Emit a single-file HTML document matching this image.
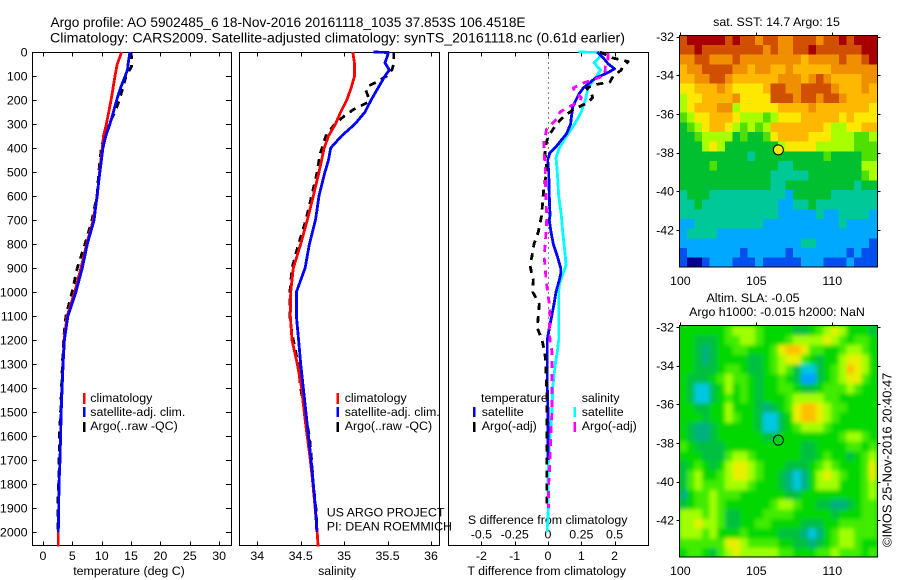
<!DOCTYPE html>
<html lang="en">
<head>
<meta charset="utf-8">
<title>Argo profile</title>
<style>
html,body{margin:0;padding:0;background:#fff;}
svg{display:block;}
text{font-family:"Liberation Sans",Arial,sans-serif;fill:#000;font-size:12.4px;}
.t14{font-size:14.2px;}
</style>
</head>
<body>
<svg id="chart" xmlns="http://www.w3.org/2000/svg" width="900" height="580" viewBox="0 0 900 580">
<defs>
<clipPath id="clip-sst"><rect x="679.5" y="35.5" width="198" height="231.5"/></clipPath>
<clipPath id="clip-sla"><rect x="679.5" y="325.5" width="198" height="231.5"/></clipPath>
<filter id="smooth" filterUnits="userSpaceOnUse" x="660" y="310" width="240" height="265"><feGaussianBlur stdDeviation="2"/></filter>
</defs>
<text class="t14" x="50.5" y="27" textLength="475" lengthAdjust="spacingAndGlyphs">Argo profile: AO 5902485_6 18-Nov-2016 20161118_1035 37.853S 106.4518E</text>
<text class="t14" x="50" y="42.5" textLength="575" lengthAdjust="spacingAndGlyphs">Climatology: CARS2009. Satellite-adjusted climatology: synTS_20161118.nc (0.61d earlier)</text>

<text x="129" y="575" text-anchor="middle">temperature (deg C)</text>
<text x="337" y="575" text-anchor="middle">salinity</text>
<text x="546.7" y="575" text-anchor="middle">T difference from climatology</text>
<text x="547.7" y="524" text-anchor="middle">S difference from climatology</text>

<text x="326.7" y="516.5">US ARGO PROJECT</text>
<text x="326.7" y="530.5">PI: DEAN ROEMMICH</text>

<text x="776.5" y="26" text-anchor="middle">sat. SST: 14.7 Argo: 15</text>
<text x="753" y="302" text-anchor="middle">Altim. SLA: -0.05</text>
<text x="777" y="316" text-anchor="middle">Argo h1000: -0.015 h2000: NaN</text>
<text transform="translate(891.5,547) rotate(-90)" style="font-size:12.9px">©IMOS 25-Nov-2016 20:40:47</text>
</svg>
<script>
// ---------- axis tick values ----------
var depthTicks = [0,100,200,300,400,500,600,700,800,900,1000,1100,1200,1300,1400,1500,1600,1700,1800,1900,2000];
var tempTicks = [0,5,10,15,20,25,30];
var salTicks = [34,34.5,35,35.5,36];
var salTickLabels = ['34','34.5','35','35.5','36'];
var tDiffTicks = [-2,-1,0,1,2];
var sDiffTicks = [-0.5,-0.25,0,0.25,0.5];
var sDiffTickLabels = ['-0.5','-0.25','0','0.25','0.5'];
var lonTicks = [100,105,110];
var latTicks = [-32,-34,-36,-38,-40,-42];

// ---------- temperature panel ----------
var tempClimDepth = [0,50,100,200,300,350,400,500,600,700,800,900,1000,1100,1200,1300,1400,1500,1600,1700,1800,1900,2000,2060];
var tempClim = [13.4,12.65,12.26,11.6,10.8,10.3,10.1,9.65,9.25,8.57,7.44,6.47,5.4,4.1,3.6,3.4,3.25,3.1,3.0,2.9,2.72,2.67,2.6,2.6];
var tempSatDepth = [0,50,75,100,150,200,250,300,350,400,500,600,700,800,900,1000,1100,1200,1300,1400,1500,1600,1700,1800,1900,2000];
var tempSat = [14.8,14.5,14.4,14,13.2,12.55,12,11.4,10.7,10.2,9.7,9.2,8.7,7.55,6.7,5.6,4.25,3.65,3.42,3.25,3.1,3.0,2.9,2.72,2.67,2.6];
var tempArgoDepth = [0,30,60,100,150,200,250,300,350,400,500,600,700,800,900,1000,1100,1200,1300,1400,1500,1600,1700,1800,1900,2000];
var tempArgo = [14.95,15.15,15.1,14.15,13.6,13,12.27,11.2,10.45,9.93,9.5,9.2,8.35,7.15,5.85,4.95,3.9,3.5,3.3,3.15,3.0,2.8,2.75,2.65,2.5,2.5];

// ---------- salinity panel ----------
var salClimDepth = [0,50,100,150,200,250,300,350,400,500,600,700,800,900,1000,1100,1200,1300,1400,1500,1600,1700,1800,1900,2000,2060];
var salClim = [35.1,35.12,35.12,35.08,35.03,34.96,34.9,34.82,34.77,34.71,34.645,34.576,34.5,34.415,34.385,34.38,34.4,34.46,34.51,34.54,34.575,34.61,34.64,34.665,34.69,34.7];
var salSatDepth = [0,2,25,45,75,100,150,200,250,300,350,400,450,500,600,700,800,900,1000,1100,1200,1300,1400,1500,1600,1700,1800,1900,2000];
var salSat = [35.34,35.51,35.49,35.47,35.52,35.47,35.39,35.31,35.24,35.125,34.97,34.845,34.82,34.78,34.71,34.67,34.6,34.55,34.45,34.45,34.475,34.5,34.53,34.56,34.59,34.62,34.645,34.67,34.685];
var salArgoDepth = [0,20,50,75,100,125,140,160,190,210,240,270,310,350,400,430,500,600,700,800,900,1000,1100,1150,1200,1300,1400,1500,1600,1700,1800,1900,2000];
var salArgo = [35.57,35.57,35.57,35.55,35.49,35.375,35.29,35.25,35.28,35.27,35.105,34.99,34.87,34.79,34.745,34.72,34.69,34.625,34.56,34.475,34.4,34.375,34.375,34.39,34.415,34.47,34.5,34.545,34.6,34.625,34.645,34.675,34.69];

// ---------- difference panel ----------
var dTSatDepth = [0,25,50,70,85,110,150,175,200,230,300,340,400,420,450,500,600,680,700,750,800,850,900,925,950,1000,1050,1100,1150,1200,1300,1400,1500,1600,1700];
var dTSat = [1.48,1.66,1.81,2.0,1.81,1.41,1.06,0.93,0.84,0.74,0.68,0.56,0.21,0.06,-0.01,0.02,0.04,0.06,0.04,0.09,0.16,0.28,0.38,0.38,0.34,0.24,0.18,0.11,0.04,-0.02,-0.02,-0.02,0,0,0];
var dTArgoDepth = [0,25,40,60,75,100,125,135,150,175,190,210,240,270,300,340,370,420,450,500,560,620,680,700,750,800,850,890,950,1000,1050,1100,1150,1200,1250,1300,1350,1400,1500,1550,1800,1900];
var dTArgo = [1.56,1.95,2.41,2.24,2.2,1.96,1.86,1.46,1.16,1.31,1.34,1.21,0.76,0.46,0.26,0.06,-0.04,-0.09,-0.06,-0.04,-0.12,-0.16,-0.19,-0.22,-0.29,-0.42,-0.48,-0.54,-0.44,-0.46,-0.26,-0.29,-0.32,-0.18,-0.1,-0.06,-0.06,-0.04,-0.04,-0.04,-0.04,-0.04];
var dSSatDepth = [0,2,25,45,75,100,150,200,250,300,350,400,440,500,600,680,750,800,850,890,925,970,1000,1100,1200,1250,1300,1400,1500,1600,1700,1800,1900,1980,2000];
var dSSat = [0.23,0.41,0.38,0.345,0.395,0.365,0.30,0.28,0.25,0.20,0.14,0.085,0.06,0.07,0.08,0.10,0.11,0.12,0.13,0.135,0.11,0.085,0.08,0.08,0.08,0.07,0.055,0.035,0.03,0.015,0.003,0,0.003,-0.005,-0.005];
var dSArgoDepth = [5,30,60,75,100,130,150,165,190,205,230,250,280,320,350,370,420,480,520,600,700,800,850,900,950,1000,1050,1100,1150,1200,1250,1300,1400,1500,1600,1700,1800,1900];
var dSArgo = [0.45,0.45,0.43,0.43,0.42,0.26,0.19,0.20,0.25,0.24,0.15,0.09,0.065,-0.01,-0.02,-0.03,-0.03,-0.02,-0.02,-0.015,-0.01,-0.02,-0.03,-0.02,-0.015,-0.002,0.01,0.015,0.01,0.015,0.03,0.03,0.03,0.03,0.02,0.015,0.005,0.003];

// ---------- map grids (colour class per half-degree cell, top row is -32S, first column 100E) ----------
var sstRows = [
[10,11,11,11,11,11,10,11,10,10,9,10,10,9,9,10,10,10,9,10,10,11,10,11,11,11],
[10,10,11,10,10,10,10,10,10,10,10,9,10,9,9,10,10,11,10,10,10,10,10,10,11,11],
[9,9,10,10,9,9,9,10,9,9,9,9,9,9,9,9,8,9,9,9,9,10,9,9,10,11],
[8,9,9,10,10,10,10,9,9,8,9,9,8,8,9,8,8,8,8,8,9,9,9,9,9,9],
[8,8,9,9,10,10,9,8,8,8,8,8,8,9,9,9,8,9,10,9,8,8,8,8,9,9],
[7,7,8,8,8,9,8,7,7,7,7,8,10,10,9,9,10,10,10,10,9,8,8,8,9,8],
[6,7,7,8,8,8,8,9,7,7,7,7,10,10,10,9,10,10,9,10,10,9,8,8,8,8],
[6,7,8,8,8,9,9,6,7,7,7,7,7,8,8,8,8,9,8,8,8,8,8,8,8,7],
[5,6,7,7,8,8,8,7,6,6,6,5,6,7,7,7,8,8,8,8,8,7,8,7,7,7],
[4,5,6,7,8,8,7,6,5,6,5,6,8,8,8,8,8,8,8,7,6,6,7,7,8,8],
[4,4,5,6,6,6,6,4,5,4,4,5,7,8,8,8,8,7,7,7,6,6,6,5,5,6],
[4,4,4,6,7,6,4,4,4,4,4,4,4,6,7,7,7,7,6,6,6,6,6,5,5,5],
[4,4,4,4,4,4,4,4,4,3,4,4,4,4,4,4,4,4,4,5,4,4,4,4,5,5],
[4,4,4,4,5,4,4,4,4,4,4,4,4,3,3,4,4,4,4,4,4,4,4,4,6,6],
[4,4,4,4,4,4,4,4,4,4,4,4,3,3,3,3,3,4,4,4,4,4,4,4,5,6],
[4,4,4,4,4,4,4,4,4,4,4,4,3,3,4,4,4,4,4,4,4,4,4,3,4,4],
[3,4,4,4,3,3,3,3,3,3,3,3,3,3,2,4,4,4,4,4,3,3,3,3,3,3],
[3,3,4,3,3,3,3,3,3,3,3,3,3,2,2,3,3,4,3,3,3,3,3,3,3,3],
[3,3,3,3,3,3,3,3,3,3,3,3,3,2,2,2,2,2,3,2,2,3,3,3,3,2],
[2,2,3,3,3,3,3,3,3,3,3,2,2,2,2,2,2,2,2,2,2,3,2,2,2,2],
[2,3,3,3,3,2,2,2,2,2,2,2,2,2,2,2,2,2,2,2,2,2,2,2,2,2],
[2,2,2,2,2,2,2,2,2,2,2,2,2,2,2,2,3,3,2,2,2,2,2,2,2,1],
[1,2,2,2,2,2,2,2,1,2,2,2,2,2,1,2,2,2,2,2,2,2,1,2,1,1],
[1,0,0,1,2,2,2,1,1,1,2,1,1,1,1,1,2,2,2,1,1,1,2,1,1,1]
];
var slaRows = [
[4,4,4,4,4,4,5,6,6,6,5,4,4,4,4,3,3,4,5,6,7,6,4,4,4,3],
[4,4,3,3,3,4,5,5,6,6,5,4,4,4,5,6,6,6,6,7,6,5,4,5,5,4],
[4,4,3,2,3,4,4,5,5,4,4,4,5,7,8,8,7,5,5,4,4,5,6,6,5,4],
[4,4,3,2,3,4,4,4,4,3,3,4,5,6,7,7,5,4,3,4,4,6,7,7,6,4],
[4,4,3,3,3,4,5,5,4,3,3,4,5,6,5,3,1,1,3,4,5,6,8,7,6,4],
[4,3,3,3,4,5,6,5,5,4,3,4,4,5,4,3,0,0,3,4,5,6,7,7,5,4],
[4,3,1,1,3,4,6,4,5,4,3,4,4,5,5,4,3,3,4,5,5,5,6,5,4,4],
[4,3,1,1,3,4,5,4,5,4,3,4,4,4,5,6,6,6,6,5,5,4,4,4,4,4],
[4,4,3,3,4,4,6,4,4,4,3,2,3,4,5,7,8,8,7,6,5,5,4,4,4,4],
[4,4,4,3,4,4,6,5,4,4,3,1,1,3,4,7,8,8,7,6,5,4,4,4,4,4],
[4,3,2,2,3,4,4,4,4,4,3,1,1,3,4,5,6,6,6,5,4,4,4,4,4,4],
[4,3,2,2,3,4,4,4,4,4,4,3,3,4,4,4,4,4,4,4,4,5,6,6,5,4],
[5,4,3,3,3,3,4,4,4,4,4,4,4,4,4,4,3,3,4,4,4,4,5,5,4,5],
[4,4,4,3,3,3,5,6,6,5,4,4,4,4,4,4,3,3,4,5,4,4,3,4,5,6],
[3,4,5,4,3,4,6,7,7,6,5,4,4,4,3,3,3,4,5,6,5,4,4,4,5,7],
[3,5,6,4,4,5,6,7,7,6,5,4,4,3,2,1,2,4,6,7,6,5,4,4,5,7],
[3,5,6,5,5,5,6,6,6,5,4,4,4,3,2,1,2,4,6,6,6,4,4,4,5,6],
[2,4,5,5,6,5,5,5,4,4,4,4,4,4,3,3,4,4,4,4,4,4,4,4,5,6],
[3,4,5,5,6,5,4,4,4,4,4,4,5,6,6,5,4,4,3,3,2,2,3,4,5,5],
[6,6,6,5,6,5,3,3,4,4,4,5,5,5,5,4,4,4,4,4,3,4,4,4,5,5],
[6,6,7,6,6,5,3,3,4,4,5,5,4,4,4,4,3,3,3,4,4,5,5,5,5,5],
[6,6,6,5,6,4,4,4,5,4,4,4,4,3,3,3,2,1,2,4,5,6,6,5,5,5],
[5,5,5,5,5,5,7,7,6,5,5,5,5,4,4,3,3,2,3,4,5,6,6,5,4,4],
[4,5,5,4,3,5,6,7,6,6,6,6,6,5,5,4,4,4,5,5,6,5,5,5,4,5]
];
var sstPalette = ['#000090','#0050f0','#00a8ff','#00c898','#00c030','#50e000','#a8ff00','#ffe800','#ffb800','#f09000','#d05000','#a80000'];
var slaPalette = ['#00a0ff','#00c8e0','#00b080','#00c040','#00d800','#40ec00','#a0ff00','#e8f000','#ffc000'];
var argoLon = 106.4518;
var argoLat = -37.853;

// ---------- axis functions ----------
function yDepth(d){ return 52 + 0.24 * d; }
function xTemp(t){ return 43 + 5.87 * t; }
function xSal(s){ return 257.3 + 86.85 * (s - 34); }
function xDT(t){ return 548 + 33.3 * t; }
function xDS(s){ return xDT(s * 4); }
function xLon(lon){ return 680.3 + 15.2 * (lon - 100); }
function ySst(lat){ return 36.7 + 19.33 * (-32 - lat); }
function ySla(lat){ return 327 + 19.33 * (-32 - lat); }

var NS = 'http://www.w3.org/2000/svg';
var svg = document.getElementById('chart');
function make(tag, attrs, parent){
  var el = document.createElementNS(NS, tag);
  for (var k in attrs) el.setAttribute(k, attrs[k]);
  (parent || svg).appendChild(el);
  return el;
}
function tick(x1,y1,x2,y2,name){
  var el = make('line',{x1:x1,y1:y1,x2:x2,y2:y2,stroke:'#000','stroke-width':1,'shape-rendering':'crispEdges'});
  
  
}
function label(x,y,text,anchor,name){
  var el = make('text',{x:x,y:y,'text-anchor':anchor});
  el.textContent = text;
  
  
}
function frame(x,y,w,h,name){
  var el = make('rect',{x:x,y:y,width:w,height:h,fill:'none',stroke:'#000','stroke-width':1,'shape-rendering':'crispEdges'});
  
  
}
function profile(depths, values, xf, color, width, dash, name){
  var pts = values.map(function(v,i){ return xf(v).toFixed(1) + ',' + yDepth(depths[i]).toFixed(1); }).join(' ');
  var el = make('polyline',{points:pts,fill:'none',stroke:color,'stroke-width':width,'stroke-linejoin':'round','shape-rendering':'crispEdges'});
  if (dash) el.setAttribute('stroke-dasharray', dash);
  
  
}
function legendRow(xBar, y0, y1, color, xText, yText, text, name){
  var bar = make('rect',{x:xBar,y:y0,width:2.5,height:y1-y0,fill:color,'shape-rendering':'crispEdges'});
  
  
  label(xText, yText, text, 'start', name + '-label');
}

var PT=52.5, PB=545.5;

// temperature panel
frame(32.5,PT,199,493,'temperature-panel-frame');
depthTicks.forEach(function(d){
  var y = Math.round(yDepth(d)) + 0.5;
  tick(32.5,y,36.5,y,'depth-tick-left');
  tick(226,y,231.5,y,'depth-tick-right');
  label(27.5,yDepth(d)+4.3,String(d),'end','depth-tick-label');
});
tempTicks.forEach(function(t){
  var x = Math.round(xTemp(t)) + 0.5;
  tick(x,PT,x,PT+4,'temperature-tick-top');
  tick(x,PB-4,x,PB,'temperature-tick-bottom');
  label(xTemp(t),560,String(t),'middle','temperature-tick-label');
});
profile(tempArgoDepth,tempArgo,xTemp,'#000',2.8,'7 6','temperature-argo-line');
profile(tempClimDepth,tempClim,xTemp,'#ff0000',2.8,null,'temperature-climatology-line');
profile(tempSatDepth,tempSat,xTemp,'#0000ff',2.8,null,'temperature-satellite-line');
legendRow(83,393,404,'#ff0000',90.3,402,'climatology','temperature-legend-climatology');
legendRow(83,407,417,'#0000ff',90.3,416,'satellite-adj. clim.','temperature-legend-satellite');
legendRow(83,422,432,'#000',90.3,430,'Argo(..raw -QC)','temperature-legend-argo');

// salinity panel
frame(239.5,PT,200,493,'salinity-panel-frame');
salTicks.forEach(function(s,i){
  var x = Math.round(xSal(s)) + 0.5;
  tick(x,PT,x,PT+4,'salinity-tick-top');
  tick(x,PB-4,x,PB,'salinity-tick-bottom');
  label(xSal(s),560,salTickLabels[i],'middle','salinity-tick-label');
});
profile(salArgoDepth,salArgo,xSal,'#000',2.8,'7 6','salinity-argo-line');
profile(salClimDepth,salClim,xSal,'#ff0000',2.8,null,'salinity-climatology-line');
profile(salSatDepth,salSat,xSal,'#0000ff',2.8,null,'salinity-satellite-line');
legendRow(336.5,393,404,'#ff0000',344.7,402,'climatology','salinity-legend-climatology');
legendRow(336.5,407,417,'#0000ff',344.7,416,'satellite-adj. clim.','salinity-legend-satellite');
legendRow(336.5,422,432,'#000',344.7,430,'Argo(..raw -QC)','salinity-legend-argo');

// difference panel
frame(448.5,PT,200,493,'difference-panel-frame');
var zero = make('line',{x1:xDT(0)+0.5,y1:PT,x2:xDT(0)+0.5,y2:yDepth(1200),stroke:'#000','stroke-width':1,'stroke-dasharray':'1 4','shape-rendering':'crispEdges'});


tDiffTicks.forEach(function(t){
  var x = Math.round(xDT(t)) + 0.5;
  tick(x,PT,x,PT+4,'t-difference-tick-top');
  tick(x,PB-4,x,PB,'t-difference-tick-bottom');
  label(xDT(t),560,String(t),'middle','t-difference-tick-label');
});
sDiffTicks.forEach(function(s,i){
  label(xDS(s),538.5,sDiffTickLabels[i],'middle','s-difference-tick-label');
});
profile(dSSatDepth,dSSat,xDS,'#00ffff',2.8,null,'s-difference-satellite-line');
profile(dTSatDepth,dTSat,xDT,'#0000ff',2.8,null,'t-difference-satellite-line');
profile(dTArgoDepth,dTArgo,xDT,'#000',2.8,'7 6','t-difference-argo-line');
profile(dSArgoDepth,dSArgo,xDS,'#ff00ff',2.8,'7 6','s-difference-argo-line');
label(481,402,'temperature','start','difference-legend-temperature-heading');
legendRow(473,407,417,'#0000ff',481.7,416,'satellite','difference-legend-t-satellite');
legendRow(473,422,432,'#000',481.7,430,'Argo(-adj)','difference-legend-t-argo');
label(581.7,402,'salinity','start','difference-legend-salinity-heading');
legendRow(573.5,407,417,'#00ffff',581.7,416,'satellite','difference-legend-s-satellite');
legendRow(573.5,422,432,'#ff00ff',581.7,430,'Argo(-adj)','difference-legend-s-argo');

// maps
function drawMap(rows, palette, yf, clipId, smooth, mapName, top){
  var outer = make('g',{'clip-path':'url(#'+clipId+')'});
  
  
  var bg = make('rect',{x:679,y:top,width:199,height:232,fill:smooth?'#00d800':'#00c030'},outer);
  
  
  var g = make('g',smooth?{filter:'url(#smooth)'}:{},outer);
  rows.forEach(function(row,r){
    row.forEach(function(v,c){
      var lon = 99.93 + c * 0.5, lat = -31.93 - r * 0.5;
      var x = xLon(lon), y = yf(lat);
      var cell = make('rect',{x:x.toFixed(2),y:y.toFixed(2),width:(xLon(lon+0.5)-x+0.4).toFixed(2),height:(yf(lat-0.5)-y+0.4).toFixed(2),fill:palette[v],'shape-rendering':'crispEdges'},g);
      
      
    });
  });
}
drawMap(sstRows,sstPalette,ySst,'clip-sst',false,'sst-map',35.5);
drawMap(slaRows,slaPalette,ySla,'clip-sla',true,'sla-map',325.5);
frame(679.5,35.5,198,231.5,'sst-map-frame');
frame(679.5,325.5,198,231.5,'sla-map-frame');

function mapAxes(yf, top, bottom, labelY, name){
  lonTicks.forEach(function(lon){
    var x = Math.round(xLon(lon)) + 0.5;
    tick(x,top-3,x,top,name+'-lon-tick');
    label(xLon(lon),labelY,String(lon),'middle',name+'-lon-label');
  });
  latTicks.forEach(function(lat){
    var y = Math.round(yf(lat)) + 0.5;
    tick(676.5,y,679.5,y,name+'-lat-tick-left');
    tick(877.5,y,880.5,y,name+'-lat-tick-right');
    label(674,yf(lat)+4.3,String(lat),'end',name+'-lat-label');
  });
}
mapAxes(ySst,35.5,267,285,'sst-map');
mapAxes(ySla,325.5,557,575,'sla-map');

var m1 = make('circle',{cx:xLon(argoLon),cy:ySst(argoLat),r:5,fill:sstPalette[7],stroke:'#000','stroke-width':1});


var m2 = make('circle',{cx:xLon(argoLon),cy:ySla(argoLat),r:5,fill:'none',stroke:'#000','stroke-width':1});


</script>
</body>
</html>
